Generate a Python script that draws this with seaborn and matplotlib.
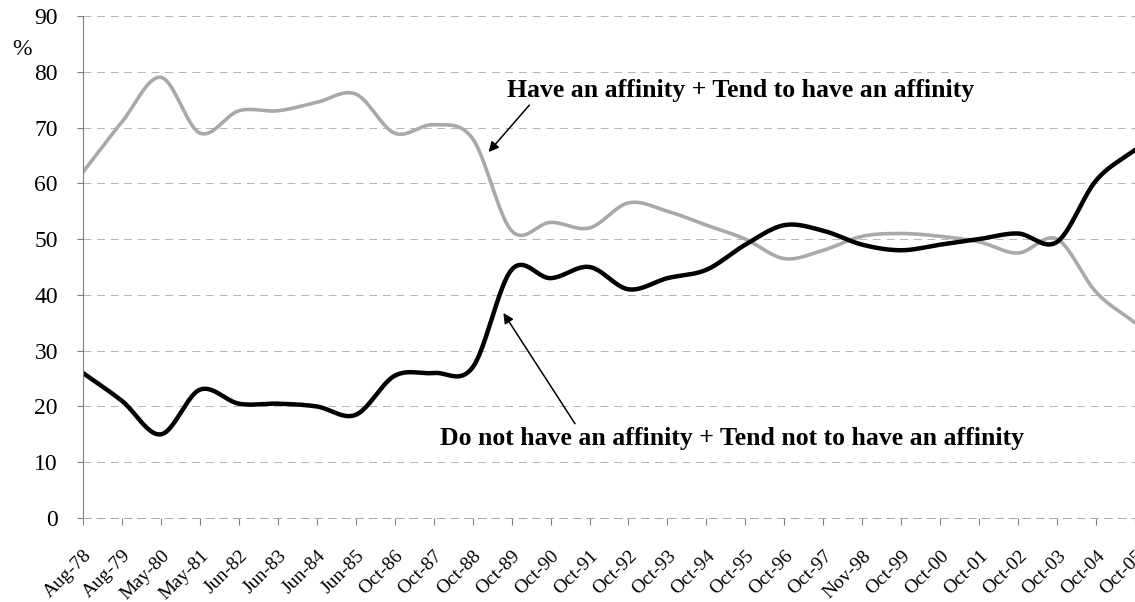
import numpy as np
import pandas as pd
import matplotlib
matplotlib.use("Agg")
import matplotlib.pyplot as plt
import matplotlib.transforms as mtransforms
import seaborn as sns

# Survey waves (x-axis categories)
waves = ["Aug-78", "Aug-79", "May-80", "May-81", "Jun-82", "Jun-83", "Jun-84",
         "Jun-85", "Oct-86", "Oct-87", "Oct-88", "Oct-89", "Oct-90", "Oct-91",
         "Oct-92", "Oct-93", "Oct-94", "Oct-95", "Oct-96", "Oct-97", "Nov-98",
         "Oct-99", "Oct-00", "Oct-01", "Oct-02", "Oct-03", "Oct-04", "Oct-05"]

# Share of respondents (%)
affinity = [62, 71, 79, 69, 73, 73, 74.5, 76, 69, 70.5, 68, 51.5, 53, 52,
            56.5, 55, 52.5, 50, 46.5, 48, 50.5, 51, 50.5, 49.5, 47.5, 50, 40.5, 35]
no_affinity = [26, 21, 15, 23, 20.5, 20.5, 20, 18.5, 25.5, 26, 27, 44.5, 43, 45,
               41, 43, 44.5, 49, 52.5, 51.5, 49, 48, 49, 50, 51, 49.5, 60.5, 66]

label_affinity = "Have an affinity + Tend to have an affinity"
label_no_affinity = "Do not have an affinity + Tend not to have an affinity"

y_ticks = list(range(0, 91, 10))


def smooth(values, steps=24):
    """Cardinal (Catmull-Rom) spline through the points, like a smoothed line chart."""
    y = np.asarray(values, dtype=float)
    n = len(y)
    m = np.empty(n)
    m[1:-1] = (y[2:] - y[:-2]) / 2.0
    m[0] = y[1] - y[0]
    m[-1] = y[-1] - y[-2]
    xs, ys = [], []
    for i in range(n - 1):
        t = np.linspace(0, 1, steps, endpoint=(i == n - 2))
        h00 = 2 * t**3 - 3 * t**2 + 1
        h10 = t**3 - 2 * t**2 + t
        h01 = -2 * t**3 + 3 * t**2
        h11 = t**3 - t**2
        xs.append(i + t)
        ys.append(h00 * y[i] + h10 * m[i] + h01 * y[i + 1] + h11 * m[i + 1])
    return np.concatenate(xs), np.concatenate(ys)


sns.set_theme(style="white")
plt.rcParams["font.family"] = ["Liberation Serif", "DejaVu Serif"]
plt.rcParams["text.color"] = "black"
plt.rcParams["xtick.color"] = "black"
plt.rcParams["ytick.color"] = "black"

fig = plt.figure(figsize=(11.35, 6.02), dpi=100)
ax = fig.add_axes([0.0731, 0.1395, 0.9269, 0.834])

xa, ya = smooth(affinity)
xn, yn = smooth(no_affinity)
curves = pd.concat([
    pd.DataFrame({"pos": xa, "pct": ya, "series": label_affinity}),
    pd.DataFrame({"pos": xn, "pct": yn, "series": label_no_affinity}),
])

sns.lineplot(data=curves, x="pos", y="pct", hue="series", sort=False,
             palette={label_affinity: "#a9a9a9", label_no_affinity: "#000000"},
             legend=False, ax=ax, estimator=None)
lines = ax.get_lines()
lines[0].set_linewidth(2.6)
lines[1].set_linewidth(3.2)
for ln in lines:
    ln.set_solid_capstyle("round")
    ln.set_solid_joinstyle("round")

ax.set_xlim(0, 26.77)
ax.set_ylim(0, 90)
ax.set_yticks(y_ticks)
ax.set_yticklabels([str(v) for v in y_ticks], fontsize=17, color="black")
ax.set_xticks(range(len(waves)))
ax.set_xticklabels(waves, rotation=45, ha="right", rotation_mode="anchor",
                   fontsize=14, color="black")
shift = mtransforms.ScaledTranslation(-5 / 100, 0, fig.dpi_scale_trans)
for lab in ax.get_xticklabels():
    lab.set_transform(lab.get_transform() + shift)
ax.set_xlabel("")
ax.set_ylabel("")

# dashed horizontal gridlines
for v in y_ticks[1:]:
    ax.axhline(v, color="#b4b4b4", lw=0.7, ls=(0, (8, 6)), zorder=0)

for side in ("top", "right"):
    ax.spines[side].set_visible(False)
ax.spines["left"].set_color("#808080")
ax.spines["left"].set_linewidth(0.8)
ax.spines["bottom"].set_color("#a8a8a8")
ax.spines["bottom"].set_linewidth(0.7)
ax.spines["bottom"].set_linestyle((0, (8, 6)))
ax.tick_params(axis="y", direction="out", length=4, width=0.8, color="#808080",
               pad=14, left=True)
ax.tick_params(axis="x", direction="out", length=5, width=0.8, color="#808080",
               pad=16, bottom=True)
ax.grid(False)

fig.text(0.011, 0.917, "%", fontsize=17, ha="left", va="center")

ax.annotate(label_affinity, xy=(10.41, 65.6), xytext=(10.87, 75.5),
            fontsize=18.5, fontweight="bold", ha="left", va="baseline",
            arrowprops=dict(arrowstyle="-|>", color="black", lw=1.1,
                            mutation_scale=15, shrinkA=0, shrinkB=0,
                            relpos=(0.055, 0.0)))
ax.annotate(label_no_affinity, xy=(10.79, 36.75), xytext=(9.16, 13.1),
            fontsize=18.5, fontweight="bold", ha="left", va="baseline",
            arrowprops=dict(arrowstyle="-|>", color="black", lw=1.1,
                            mutation_scale=15, shrinkA=0, shrinkB=0,
                            relpos=(0.235, 1.0)))

fig.savefig("out.png", dpi=100, facecolor="white")
